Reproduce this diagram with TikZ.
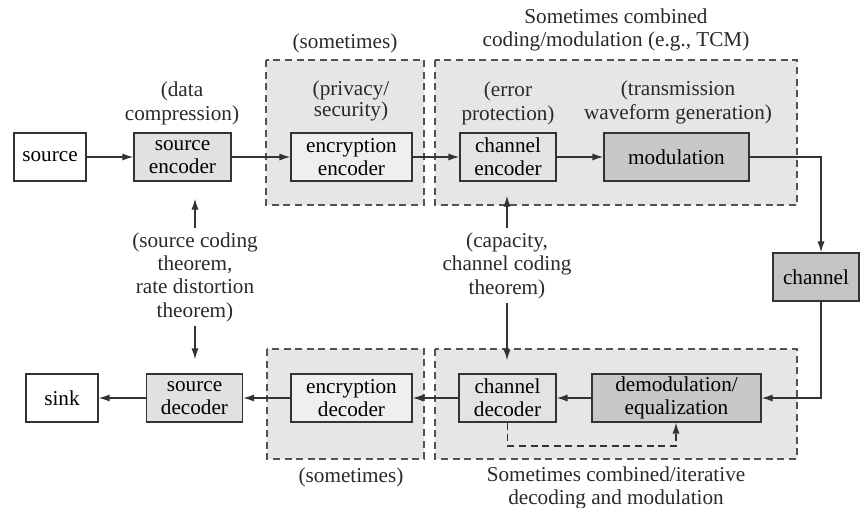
\documentclass[tikz,border=0pt]{standalone}
\usepackage{fontspec}
\setmainfont{Liberation Serif}
\usetikzlibrary{arrows.meta,calc}

\definecolor{groupfill}{HTML}{E5E6E8}
\definecolor{lightfill}{HTML}{E1E1E2}
\definecolor{paler}{HTML}{EFEFEF}
\definecolor{midfill}{HTML}{E3E3E4}
\definecolor{darkfill}{HTML}{C8C8CA}
\definecolor{chanfill}{HTML}{C4C4C6}
\definecolor{ink}{HTML}{333333}

\tikzset{
  blk/.style={draw=ink, line width=0.7pt, align=center, inner sep=0pt,
    minimum height=24pt, font=\fontsize{10.6}{11.7}\selectfont},
  note/.style={align=center, inner sep=2pt, text=ink!80!black,
    font=\fontsize{10.6}{11.7}\selectfont},
  group/.style={draw=ink!85, fill=groupfill, line width=0.65pt,
    dash pattern=on 3.5pt off 2.3pt},
  conn/.style={draw=ink, line width=0.65pt,
    -{Latex[length=5.5pt,width=3.6pt]}},
}

\begin{document}
\begin{tikzpicture}[x=0.5pt,y=-0.5pt]
\useasboundingbox (0,0) rectangle (861,508);

% dashed group backgrounds
\draw[group] (266,60) rectangle (424,205);
\draw[group] (435,60) rectangle (797,205);
\draw[group] (267,349) rectangle (424,459);
\draw[group] (435,349) rectangle (797,459);

% transmit chain
\node[blk, minimum width=36pt] (src) at (50,157) {source};
\node[blk, fill=lightfill, minimum width=48.5pt] (senc) at (182.5,157) {source\\encoder};
\node[blk, fill=paler, minimum width=60.5pt] (eenc) at (351.5,157) {encryption\\encoder};
\node[blk, fill=midfill, minimum width=48pt] (cenc) at (508,157) {channel\\encoder};
\node[blk, fill=darkfill, minimum width=72.5pt] (mod) at (676.5,157) {modulation};

% channel
\node[blk, fill=chanfill, minimum width=43pt] (chan) at (816,277) {channel};
\coordinate (cx) at (821,277);

% receive chain
\node[blk, fill=darkfill, minimum width=84.5pt] (demod) at (676.5,398) {demodulation/\\equalization};
\node[blk, fill=midfill, minimum width=48.5pt] (cdec) at (507.5,398) {channel\\decoder};
\node[blk, fill=paler, minimum width=60.5pt] (edec) at (351.5,398) {encryption\\decoder};
\node[blk, fill=lightfill, minimum width=48pt] (sdec) at (194.5,398) {source\\decoder};
\node[blk, minimum width=36pt] (sink) at (62,398) {sink};

% annotations
\node[note] (ndata) at (182,103.5) {(data\\compression)};
\node[note] (nsome1) at (345,43) {(sometimes)};
\node[note, font=\fontsize{10.6}{9.2}\selectfont] (npriv) at (351,101) {(privacy/\\security)};
\node[note] (nerr) at (508,103.5) {(error\\protection)};
\node[note] (ntx) at (678,102.5) {(transmission\\waveform generation)};
\node[note] (ntcm) at (616,30) {Sometimes combined\\coding/modulation (e.g., TCM)};
\node[note] (nsct) at (195,277) {(source coding\\theorem,\\rate distortion\\theorem)};
\node[note] (ncct) at (507,265.5) {(capacity,\\channel coding\\theorem)};
\node[note] (nsome2) at (351,477) {(sometimes)};
\node[note] (niter) at (616,488) {Sometimes combined/iterative\\decoding and modulation};

% forward connectors
\draw[conn] (src.east) -- (senc.west);
\draw[conn] (senc.east) -- (eenc.west);
\draw[conn] (eenc.east) -- (cenc.west);
\draw[conn] (cenc.east) -- (mod.west);
\draw[conn] (mod.east) -| (cx |- chan.north);
\draw[conn] (cx |- chan.south) |- (demod.east);
\draw[conn] (demod.west) -- (cdec.east);
\draw[conn] (cdec.west) -- (edec.east);
\draw[conn] (edec.west) -- (sdec.east);
\draw[conn] (sdec.west) -- (sink.east);

% theorem pointers (stopping short of the blocks)
\draw[conn, shorten >=8.5pt] (nsct.north) -- (nsct.north |- senc.south);
\draw[conn, shorten >=7pt] (nsct.south) -- (nsct.south |- sdec.north);
\draw[conn, shorten >=7pt] (ncct.north) -- (ncct.north |- cenc.south);
\draw[conn, shorten >=6.5pt] (ncct.south) -- (ncct.south |- cdec.north);

% iterative feedback from decoder to demodulator
\coordinate (fb) at (676,446);
\draw[conn, dash pattern=on 3.5pt off 2.3pt]
  (cdec.south) |- (fb) -- (fb |- demod.south);
\end{tikzpicture}
\end{document}
